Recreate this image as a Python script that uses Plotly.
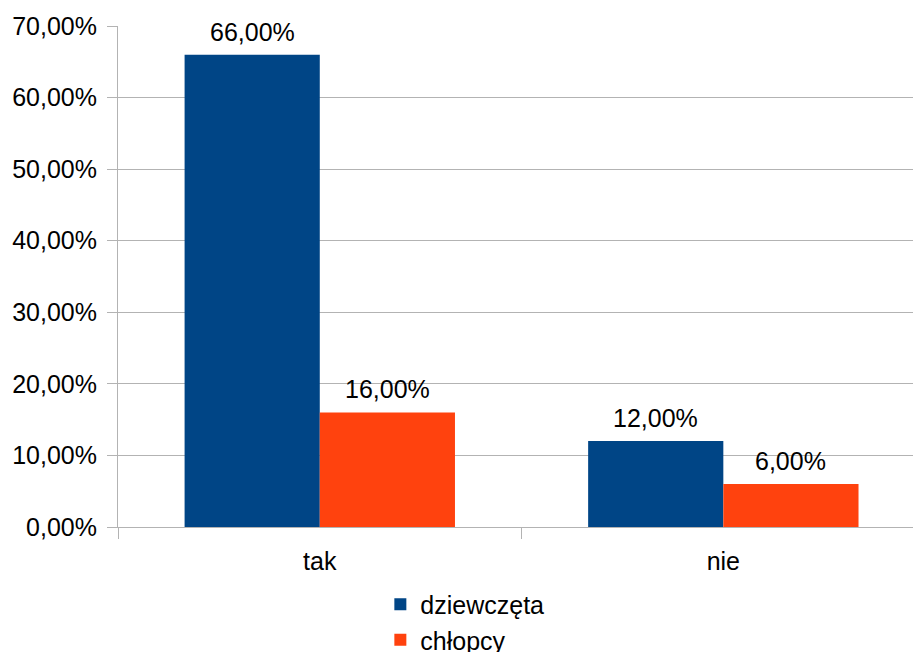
import plotly.graph_objects as go

# Survey answers, share of respondents in percent
categories = ["tak", "nie"]
girls = [66.0, 12.0]
boys = [16.0, 6.0]
y_ticks = [0, 10, 20, 30, 40, 50, 60, 70]
y_tick_text = ["0,00%", "10,00%", "20,00%", "30,00%", "40,00%", "50,00%", "60,00%", "70,00%"]

FONT = "Liberation Sans, Arial, sans-serif"
FS = 25
GRID = "#b3b3b3"
BARGAP = 0.33

fig = go.Figure()
series = [("dziewczęta", girls, "#004586"), ("chłopcy", boys, "#ff420e")]
for name, vals, color in series:
    fig.add_trace(go.Bar(
        x=categories, y=vals, name=name,
        marker=dict(color=color, line=dict(width=0)),
    ))

# value labels above each bar (grouped bars sit at +/- quarter of the used width)
half = (1 - BARGAP) / 4
for k, (name, vals, color) in enumerate(series):
    off = -half if k == 0 else half
    for i, v in enumerate(vals):
        fig.add_annotation(
            x=i + off, y=v, xref="x", yref="y",
            text=f"{v:.2f}%".replace(".", ","),
            showarrow=False, yanchor="bottom", xanchor="center", yshift=7,
            font=dict(size=FS, color="black", family=FONT),
        )

fig.update_layout(
    width=913, height=652,
    margin=dict(l=118, r=0, t=26, b=125, autoexpand=False),
    paper_bgcolor="white", plot_bgcolor="white",
    barmode="group", bargap=BARGAP, bargroupgap=0,
    font=dict(family=FONT, size=FS, color="black"),
    showlegend=True,
    legend=dict(
        orientation="v", x=0.33, xanchor="left", y=-0.109, yanchor="top",
        font=dict(size=FS, color="black", family=FONT),
        itemwidth=30, tracegroupgap=0, bgcolor="rgba(0,0,0,0)",
    ),
    xaxis=dict(
        range=[-0.5, 1.47],
        showgrid=False, showline=True, linecolor=GRID, linewidth=1,
        ticks="outside", tickson="boundaries", ticklen=11, tickcolor=GRID,
        ticklabelstandoff=12,
        tickfont=dict(size=FS, color="black", family=FONT),
        zeroline=False,
    ),
    yaxis=dict(
        range=[0, 70], tickvals=y_ticks, ticktext=y_tick_text,
        showgrid=True, gridcolor=GRID, gridwidth=1,
        showline=True, linecolor=GRID, linewidth=1,
        ticks="outside", ticklen=10, tickcolor=GRID,
        ticklabelstandoff=5,
        tickfont=dict(size=FS, color="black", family=FONT),
        zeroline=False,
    ),
)

fig.write_html("out.html")
